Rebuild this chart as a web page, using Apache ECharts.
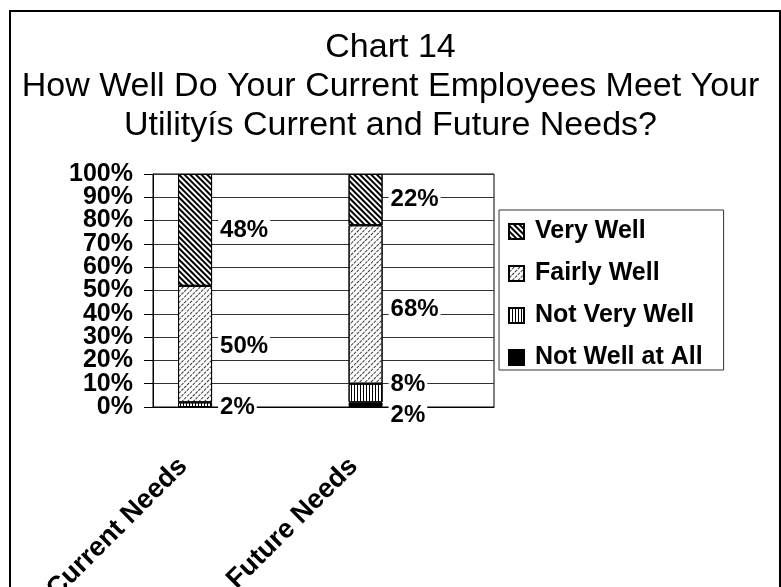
<!DOCTYPE html>
<html>
<head>
<meta charset="utf-8">
<script src="https://cdn.jsdelivr.net/npm/echarts@6/dist/echarts.min.js"></script>
<style>
  html, body { margin: 0; padding: 0; background: #fff; }
  #chart { width: 781px; height: 587px; }
</style>
</head>
<body>
<div id="chart"></div>
<script>
const categories = ["Current Needs", "Future Needs"];
const legendOrder = ["Very Well", "Fairly Well", "Not Very Well", "Not Well at All"];

// stacked bottom to top
const notWellAtAll = [0, 2];
const notVeryWell = [2, 8];
const fairlyWell = [50, 68];
const veryWell = [48, 22];

const FONT = "'Liberation Sans', Arial, Helvetica, sans-serif";

const chart = echarts.init(document.getElementById("chart"), null, { renderer: "canvas" });

// hatch fills, close to the old Excel patterns
const patterns = {
  "Very Well": { color: "#000", symbol: "rect", symbolSize: 1, dashArrayX: [1, 0], dashArrayY: [1.5, 1.5], rotation: Math.PI / 4 },
  "Fairly Well": { color: "#3a3a3a", symbol: "rect", symbolSize: 1, dashArrayX: [3, 1], dashArrayY: [1, 2.5], rotation: -Math.PI / 4 },
  "Not Very Well": { color: "#000", symbol: "rect", symbolSize: 1, dashArrayX: [1, 2], dashArrayY: [1, 0] },
};

// Excel pushed the two small labels on the right bar apart
const labelNudge = {
  "Not Well at All": [[0, 0], [0, 11]],
  "Not Very Well": [[0, 3], [0, -9]],
  "Fairly Well": [[0, 2], [0, 5]],
};

function segment(name, values) {
  const itemStyle = {
    color: patterns[name] ? "#fff" : "#000",
    borderColor: "#000",
    borderWidth: 1,
  };
  if (patterns[name]) itemStyle.decal = patterns[name];
  return {
    name,
    type: "bar",
    stack: "total",
    barWidth: 34,
    barGap: "154%",
    itemStyle,
    label: {
      show: true,
      position: "right",
      distance: 6,
      formatter: "{c}%",
      color: "#000",
      fontFamily: FONT,
      fontSize: 24,
      fontWeight: "bold",
      backgroundColor: "#fff",
      padding: [1, 2],
    },
    data: values.map((v, i) => {
      const item = { value: v };
      if (v === 0) item.label = { show: false };
      else if (labelNudge[name]) item.label = { offset: labelNudge[name][i] };
      return item;
    }),
  };
}

const series = [
  segment("Not Well at All", notWellAtAll),
  segment("Not Very Well", notVeryWell),
  segment("Fairly Well", fairlyWell),
  segment("Very Well", veryWell),
  // empty second stack so the bars sit left of the category centre like the original
  { name: "pad", type: "bar", stack: "pad", barWidth: 34, barGap: "154%", silent: true, data: categories.map(() => null) },
];

const yLabel = { formatter: "{value}%", margin: 20, fontFamily: FONT, fontSize: 25, fontWeight: "bold", color: "#000" };

chart.setOption({
  animation: false,
  backgroundColor: "#fff",
  textStyle: { fontFamily: FONT },
  title: {
    text: "Chart 14\nHow Well Do Your Current Employees Meet Your\nUtilityís Current and Future Needs?",
    left: "center",
    top: 28,
    padding: 0,
    textStyle: { fontFamily: FONT, fontSize: 34, fontWeight: "normal", lineHeight: 39, color: "#000" },
  },
  legend: {
    data: legendOrder,
    orient: "vertical",
    left: 499,
    top: 210,
    icon: "rect",
    itemWidth: 15,
    itemHeight: 15,
    itemGap: 17,
    padding: [9, 21, 0, 9],
    borderColor: "#333",
    borderWidth: 1,
    selectedMode: false,
    textStyle: { fontFamily: FONT, fontSize: 25, fontWeight: "bold", color: "#000", lineHeight: 24, padding: [0, 0, 0, 6] },
  },
  grid: {
    left: 153, right: 287, top: 174, bottom: 180,
    show: true, borderColor: "#000", borderWidth: 1,
    containLabel: false, outerBoundsMode: "none",
  },
  xAxis: {
    type: "category",
    data: categories,
    axisLine: { lineStyle: { color: "#000" } },
    axisTick: { length: 9, lineStyle: { color: "#000" } },
    axisLabel: {
      rotate: 45, interval: 0, margin: 0, padding: [0, 78, 0, 0],
      fontFamily: FONT, fontSize: 27, fontWeight: "bold", color: "#000",
    },
  },
  yAxis: [
    {
      // 10% .. 90%; the crowded labels would otherwise knock out their neighbours
      type: "value",
      min: 0,
      max: 100,
      interval: 10,
      axisLine: { show: true, lineStyle: { color: "#000" } },
      axisTick: { show: true, length: 9, lineStyle: { color: "#000" } },
      axisLabel: { ...yLabel, showMinLabel: false, showMaxLabel: false },
      splitLine: { lineStyle: { color: "#333" } },
    },
    {
      // 0% and 100% on the same left edge
      type: "value",
      position: "left",
      offset: 0,
      min: 0,
      max: 100,
      interval: 100,
      alignTicks: false,
      axisLine: { show: false },
      axisTick: { show: true, length: 9, lineStyle: { color: "#000" } },
      axisLabel: yLabel,
      splitLine: { show: false },
    },
  ],
  graphic: [
    { type: "rect", silent: true, z: -10, shape: { x: 10, y: 11, width: 770, height: 620 }, style: { fill: "none", stroke: "#000", lineWidth: 2 } },
  ],
  series,
});
</script>
</body>
</html>
